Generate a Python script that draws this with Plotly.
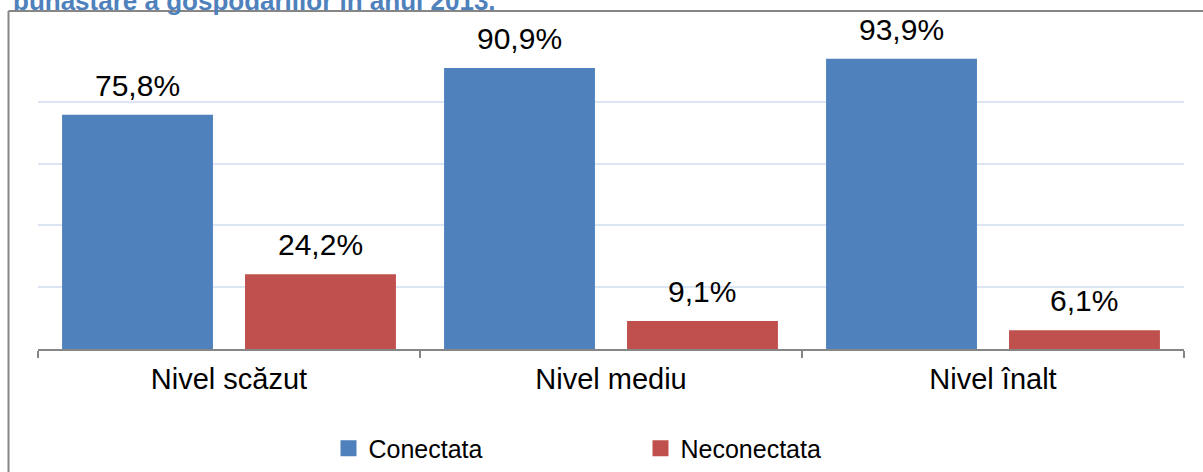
import plotly.graph_objects as go

categories = ["Nivel scăzut", "Nivel mediu", "Nivel înalt"]
conectata = [75.8, 90.9, 93.9]
neconectata = [24.2, 9.1, 6.1]
series_names = ["Conectata", "Neconectata"]
title_text = "bunăstare a gospodăriilor în anul 2013."

BLUE = "#4F81BD"
RED = "#C0504D"
FONT = "Liberation Sans, Arial, sans-serif"

def fmt(v):
    return f"{v:.1f}".replace(".", ",") + "%"

BAR_W = 0.395
OFFS = [-0.437, 0.042]

fig = go.Figure()
for name, vals, col, off in [(series_names[0], conectata, BLUE, OFFS[0]),
                             (series_names[1], neconectata, RED, OFFS[1])]:
    fig.add_trace(go.Bar(
        x=categories, y=vals, name=name, marker=dict(color=col, line=dict(width=0)),
        width=BAR_W, offset=off, hoverinfo="skip", showlegend=False,
        legendgroup=name))
# legend-only entries with larger square swatches
for name, col in [(series_names[0], BLUE), (series_names[1], RED)]:
    fig.add_trace(go.Scatter(
        x=[None], y=[None], mode="markers", name=name, legendgroup=name,
        marker=dict(symbol="square", size=16, color=col, line=dict(width=0)),
        hoverinfo="skip"))

annotations = []
for vals, off in [(conectata, OFFS[0]), (neconectata, OFFS[1])]:
    for i, v in enumerate(vals):
        annotations.append(dict(
            x=i + off + BAR_W / 2, y=v, xref="x", yref="y", text=fmt(v),
            showarrow=False, yanchor="bottom", yshift=11,
            font=dict(family=FONT, size=30, color="black")))

# partially visible title at the top of the image
annotations.append(dict(
    x=(11 - 38) / 1146, y=(349 - 18) / 309, xref="paper", yref="paper",
    xanchor="left", yanchor="bottom", showarrow=False, text="<b>" + title_text + "</b>",
    font=dict(family=FONT, size=26, color=BLUE)))

shapes = [
    dict(type="line", xref="paper", yref="paper",
         x0=(8.5 - 38) / 1146, x1=(1215 - 38) / 1146,
         y0=(349 - 11) / 309, y1=(349 - 11) / 309,
         line=dict(color="#868686", width=2)),
    dict(type="line", xref="paper", yref="paper",
         x0=(8.5 - 38) / 1146, x1=(8.5 - 38) / 1146,
         y0=(349 - 11) / 309, y1=(349 - 480) / 309,
         line=dict(color="#868686", width=2)),
]

fig.update_layout(
    width=1203, height=472,
    margin=dict(l=38, r=19, t=40, b=123, autoexpand=False),
    paper_bgcolor="white", plot_bgcolor="white",
    barmode="overlay",
    showlegend=True,
    legend=dict(orientation="h", xref="container", yref="container",
                x=328.5 / 1203, xanchor="left",
                y=1 - 448.5 / 472, yanchor="middle",
                entrywidth=267, entrywidthmode="pixels",
                itemsizing="trace",
                font=dict(family=FONT, size=25, color="black"),
                bgcolor="rgba(0,0,0,0)"),
    annotations=annotations,
    shapes=shapes,
    xaxis=dict(showline=True, linecolor="#868686", linewidth=1.5,
               ticks="outside", tickson="boundaries", ticklen=7, tickcolor="#868686",
               tickwidth=1.5, showgrid=False, ticklabelstandoff=3, automargin=False,
               tickfont=dict(family=FONT, size=29, color="black")),
    yaxis=dict(range=[0, 100], dtick=20, showgrid=True, gridcolor="#DCE6F2",
               gridwidth=2, zeroline=False, showticklabels=False, showline=False,
               automargin=False),
)

fig.write_html("out.html", config={"displayModeBar": False},
               post_script="document.body.style.margin='0';")
